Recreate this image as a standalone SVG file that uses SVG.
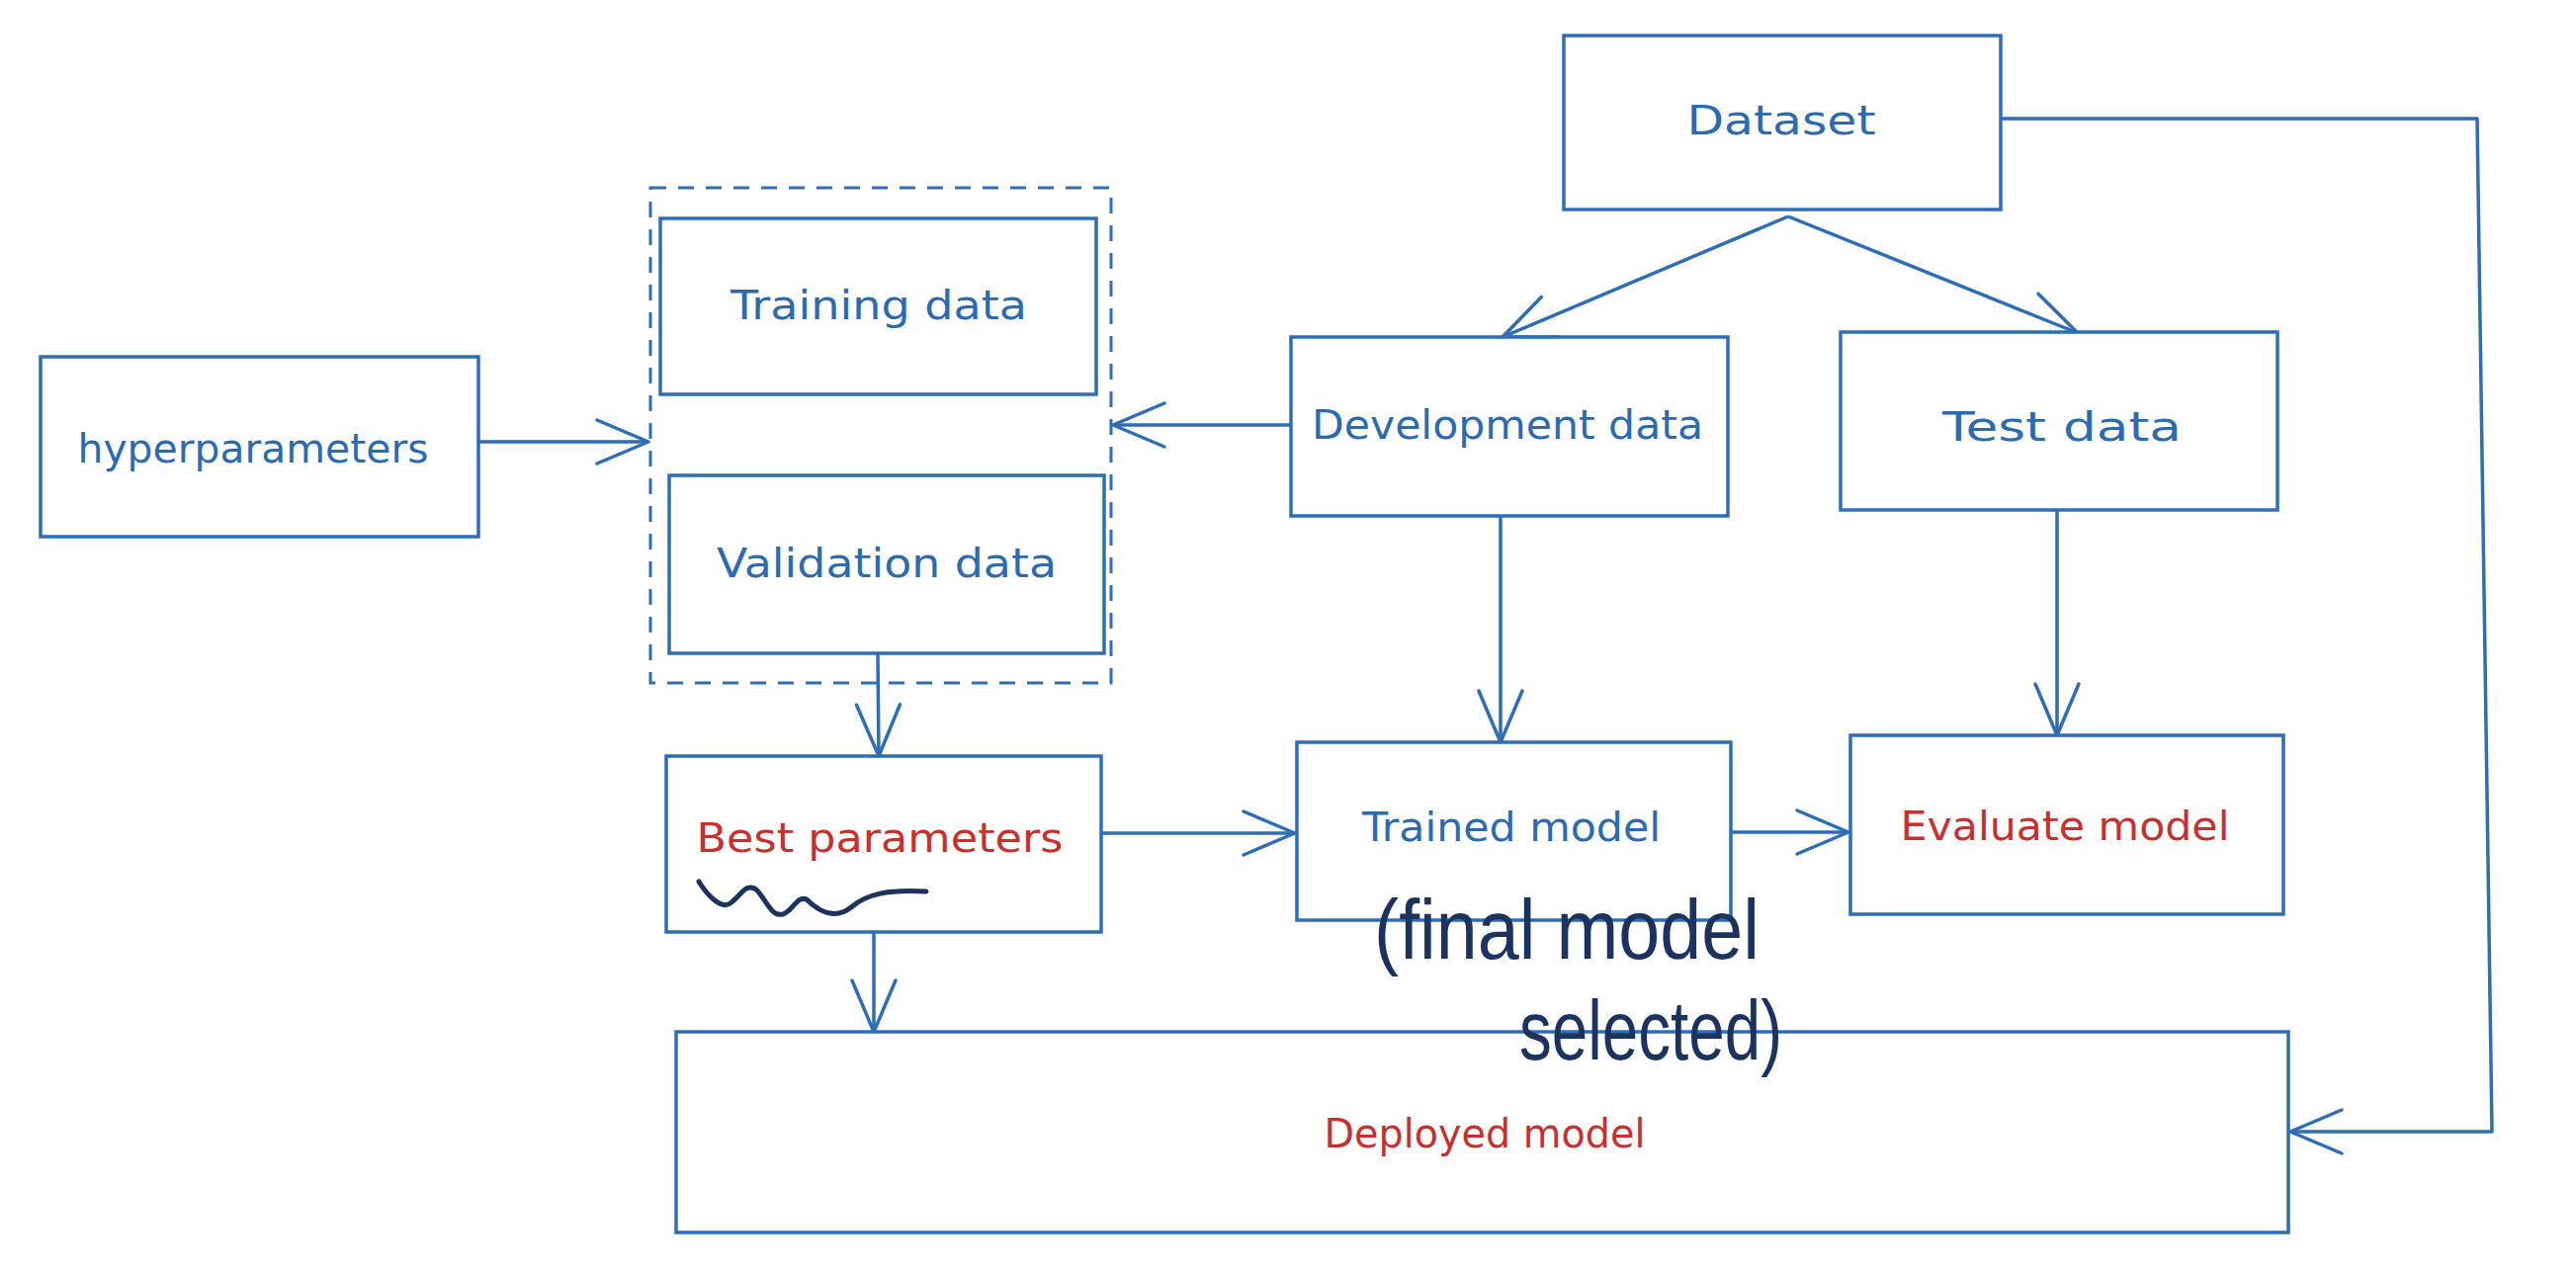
<svg xmlns="http://www.w3.org/2000/svg" width="2606" height="1286" viewBox="0 0 2606 1286">
<style>
.box{fill:#ffffff;stroke:#2f6db5;stroke-width:3.5}
.grp{fill:none;stroke:#2f6db5;stroke-width:3;stroke-dasharray:16 12}
.lbl{font-family:"DejaVu Sans","Liberation Sans",sans-serif;font-size:40px;fill:#2d6bb0;text-anchor:middle;dominant-baseline:central}
.red{fill:#c8302f}
.con{fill:none;stroke:#2f6db5;stroke-width:3.5;stroke-linejoin:round}
.hand{font-family:"Liberation Sans Narrow","Liberation Sans",sans-serif;font-size:86px;fill:#1b335e}
</style>
<defs>
<marker id="ah" markerUnits="userSpaceOnUse" viewBox="0 0 70 50" markerWidth="70" markerHeight="50" refX="60" refY="25" orient="auto" overflow="visible">
<path d="M8 3 L60 25 L8 47" fill="none" stroke="#2f6db5" stroke-width="3.5" stroke-linecap="round" stroke-linejoin="round"/>
</marker>
</defs>
<rect width="2606" height="1286" fill="#ffffff"/>
<g id="connectors">
<path class="con" d="M484 447 L656 447" marker-end="url(#ah)"/>
<path class="con" d="M1306 430 L1126 430" marker-end="url(#ah)"/>
<path class="con" d="M1809 219 L1520 341" marker-end="url(#ah)"/>
<path class="con" d="M1809 219 L2102 337" marker-end="url(#ah)"/>
<path class="con" d="M1518 522 L1518 751" marker-end="url(#ah)"/>
<path class="con" d="M2081 516 L2081 744" marker-end="url(#ah)"/>
<path class="con" d="M888 661 L889 765" marker-end="url(#ah)"/>
<path class="con" d="M1114 843 L1310 843" marker-end="url(#ah)"/>
<path class="con" d="M1751 842 L1870 842" marker-end="url(#ah)"/>
<path class="con" d="M884 943 L884 1044" marker-end="url(#ah)"/>
<path class="con" d="M2024 120 L2506 120 L2521 1145 L2317 1145" marker-end="url(#ah)"/>
</g>
<g id="group-train-val">
<rect class="grp" x="658" y="190" width="466" height="501"/>
</g>
<g id="dataset">
<rect class="box" x="1582" y="36" width="442" height="176"/>
<text class="lbl" x="1802" y="122" textLength="191" lengthAdjust="spacingAndGlyphs">Dataset</text>
</g>
<g id="hyperparameters">
<rect class="box" x="41" y="361" width="443" height="182"/>
<text class="lbl" x="256" y="454" textLength="355" lengthAdjust="spacingAndGlyphs">hyperparameters</text>
</g>
<g id="training-data">
<rect class="box" x="668" y="221" width="441" height="178"/>
<text class="lbl" x="889" y="309" textLength="300" lengthAdjust="spacingAndGlyphs">Training data</text>
</g>
<g id="validation-data">
<rect class="box" x="677" y="481" width="440" height="180"/>
<text class="lbl" x="897" y="570" textLength="344" lengthAdjust="spacingAndGlyphs">Validation data</text>
</g>
<g id="development-data">
<rect class="box" x="1306" y="341" width="442" height="181"/>
<text class="lbl" x="1525" y="430" textLength="396" lengthAdjust="spacingAndGlyphs">Development data</text>
</g>
<g id="test-data">
<rect class="box" x="1862" y="336" width="442" height="180"/>
<text class="lbl" x="2086" y="432" textLength="242" lengthAdjust="spacingAndGlyphs">Test data</text>
</g>
<g id="best-parameters">
<rect class="box" x="674" y="765" width="440" height="178"/>
<text class="lbl red" x="890" y="848" textLength="371" lengthAdjust="spacingAndGlyphs">Best parameters</text>
<path d="M707 892 C715 905 730 922 740 913 C750 905 755 893 765 900 C775 910 780 928 792 925 C802 922 806 906 816 910 C830 924 846 930 861 918 C876 905 896 900 937 902" fill="none" stroke="#1b335e" stroke-width="5" stroke-linecap="round"/>
</g>
<g id="trained-model">
<rect class="box" x="1312" y="751" width="439" height="180"/>
<text class="lbl" x="1529" y="837" textLength="302" lengthAdjust="spacingAndGlyphs">Trained model</text>
</g>
<g id="evaluate-model">
<rect class="box" x="1872" y="744" width="438" height="181"/>
<text class="lbl red" x="2089" y="836" textLength="333" lengthAdjust="spacingAndGlyphs">Evaluate model</text>
</g>
<g id="deployed-model">
<rect class="box" x="684" y="1044" width="1631" height="203"/>
<text class="lbl red" x="1502" y="1147" textLength="325" lengthAdjust="spacingAndGlyphs">Deployed model</text>
</g>
<g id="annotation">
<text class="hand"><tspan x="1390" y="970" textLength="390" lengthAdjust="spacingAndGlyphs">(final model</tspan><tspan x="1537" y="1072" textLength="266" lengthAdjust="spacingAndGlyphs">selected)</tspan></text>
</g>
</svg>
